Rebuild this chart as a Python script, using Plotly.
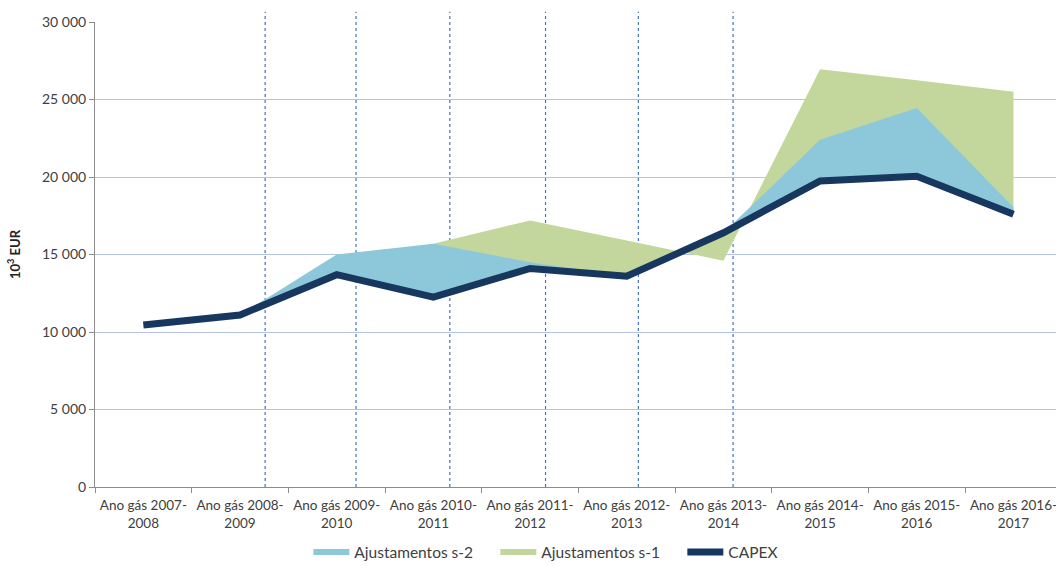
import plotly.graph_objects as go

# Gas years (x categories)
categories = [
    "Ano gás 2007-<br>2008", "Ano gás 2008-<br>2009", "Ano gás 2009-<br>2010",
    "Ano gás 2010-<br>2011", "Ano gás 2011-<br>2012", "Ano gás 2012-<br>2013",
    "Ano gás 2013-<br>2014", "Ano gás 2014-<br>2015", "Ano gás 2015-<br>2016",
    "Ano gás 2016-<br>2017",
]

# Values in 10^3 EUR
capex = [10450, 11100, 13700, 12250, 14100, 13600, 16400, 19750, 20050, 17600]
ajust_s2 = [None, 11100, 15000, 15700, 14500, 13600, 16400, 22400, 24450, 18050]
ajust_s1 = [None, None, None, 15700, 17200, 15900, 14600, 26950, 26250, 25500]

y_ticks = [0, 5000, 10000, 15000, 20000, 25000, 30000]
y_tick_text = ["0", "5 000", "10 000", "15 000", "20 000", "25 000", "30 000"]

# Dotted vertical guides, in category-index units
guide_positions = [1.26, 2.20, 3.17, 4.16, 5.12, 6.10]

FONT = "Lato, 'Open Sans', sans-serif"
BLUE_FILL = "#8DC8DA"
GREEN_FILL = "#C3D69B"
CAPEX_COLOR = "#17375E"


def band(values):
    """Return x, series and CAPEX base where the adjustment series is defined."""
    xs, ys, base = [], [], []
    for cat, v, c in zip(categories, values, capex):
        if v is not None:
            xs.append(cat)
            ys.append(v)
            base.append(c)
    return xs, ys, base


fig = go.Figure()

for name, values, color, rank in [
    ("Ajustamentos s-1", ajust_s1, GREEN_FILL, 2),
    ("Ajustamentos s-2", ajust_s2, BLUE_FILL, 1),
]:
    xs, ys, base = band(values)
    fig.add_trace(go.Scatter(
        x=xs, y=base, mode="lines", line=dict(width=0),
        showlegend=False, hoverinfo="skip",
    ))
    fig.add_trace(go.Scatter(
        x=xs, y=ys, mode="none", fill="tonexty", fillcolor=color,
        name=name, legendrank=rank,
    ))

fig.add_trace(go.Scatter(
    x=categories, y=capex, mode="lines",
    line=dict(color=CAPEX_COLOR, width=7),
    name="CAPEX", legendrank=3,
))

for gx in guide_positions:
    fig.add_shape(
        type="line", xref="x", yref="paper",
        x0=gx, x1=gx, y0=0, y1=1.022,
        line=dict(color="#4472C4", width=1.2, dash="dot"),
        layer="below",
    )

fig.update_layout(
    width=1056, height=566,
    margin=dict(l=95, r=0, t=22, b=79),
    paper_bgcolor="white", plot_bgcolor="white",
    font=dict(family=FONT, size=13, color="#404040"),
    showlegend=True,
    legend=dict(
        orientation="h", x=0.222, xanchor="left",
        yref="container", y=0.024, yanchor="middle",
        font=dict(family=FONT, size=15.5, color="#404040"),
        itemwidth=36, traceorder="normal",
        entrywidth=136, entrywidthmode="pixels",
    ),
    xaxis=dict(
        type="category", categoryorder="array", categoryarray=categories,
        range=[-0.5, 9.44], automargin=False,
        showgrid=False, showline=True, linecolor="#8C8C8C", linewidth=1,
        ticks="outside", tickson="boundaries", ticklen=5, tickcolor="#8C8C8C",
        tickfont=dict(size=13.5, color="#404040"),
        ticklabelstandoff=6,
        zeroline=False,
    ),
    yaxis=dict(
        range=[0, 30000], automargin=False,
        tickvals=y_ticks, ticktext=y_tick_text,
        showgrid=True, gridcolor="#B4C3E6", gridwidth=1,
        showline=True, linecolor="#8C8C8C", linewidth=1,
        ticks="outside", ticklen=5, tickcolor="#8C8C8C",
        tickfont=dict(size=14, color="#404040"),
        zeroline=False,
        title=dict(text="<b>10<sup>3</sup> EUR</b>", font=dict(size=13, color="#222222"),
                   standoff=18),
    ),
)

fig.write_html("out.html")
